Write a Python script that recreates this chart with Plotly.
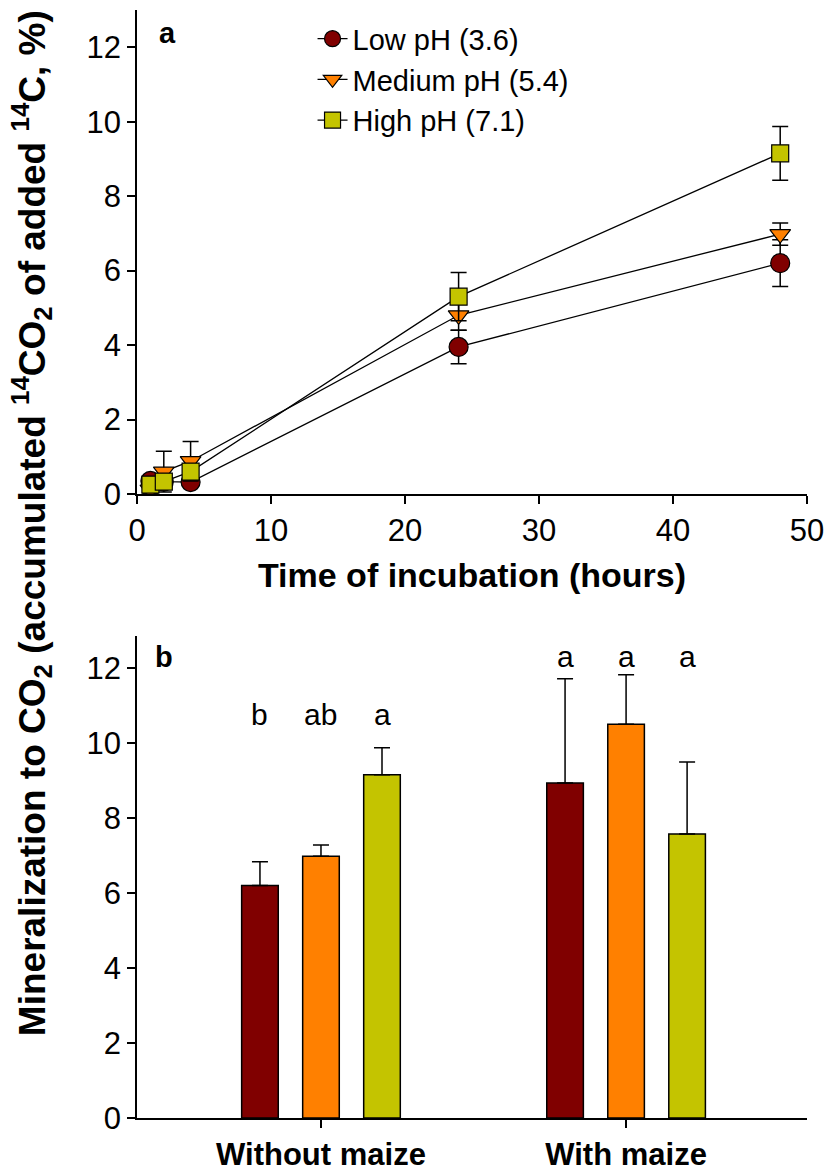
import plotly.graph_objects as go

# ---------------- data ----------------
time_h = [1, 2, 4, 24, 48]
series_names = ["Low pH (3.6)", "Medium pH (5.4)", "High pH (7.1)"]
low_ph = [0.35, 0.33, 0.32, 3.95, 6.2]
low_ph_err = [0.1, 0.1, 0.1, 0.45, 0.63]
med_ph = [0.12, 0.6, 0.88, 4.8, 6.98]
med_ph_err = [0.1, 0.55, 0.53, 0.4, 0.3]
high_ph = [0.25, 0.33, 0.6, 5.3, 9.15]
high_ph_err = [0.1, 0.1, 0.1, 0.65, 0.72]

treatments = ["Without maize", "With maize"]
bar_low = [6.2, 8.93]
bar_low_err = [0.63, 2.78]
bar_med = [6.98, 10.5]
bar_med_err = [0.3, 1.32]
bar_high = [9.15, 7.57]
bar_high_err = [0.72, 1.92]
letters_low = ["b", "a"]
letters_med = ["ab", "a"]
letters_high = ["a", "a"]
letter_y = [10.75, 12.3]

colors = ["#800000", "#FF8000", "#C4C400"]
symbols = ["circle", "triangle-down", "square"]
sizes = [19, 18, 17]

FONT = "Liberation Sans, Arial, sans-serif"

fig = go.Figure()

line_vals = [low_ph, med_ph, high_ph]
line_errs = [low_ph_err, med_ph_err, high_ph_err]
for name, vals, errs, col, sym, sz in zip(series_names, line_vals, line_errs, colors, symbols, sizes):
    fig.add_trace(go.Scatter(
        x=time_h, y=vals, name=name, mode="lines+markers",
        line=dict(color="black", width=1.3),
        marker=dict(symbol=sym, size=sz, color=col, line=dict(color="black", width=1.2)),
        error_y=dict(type="data", array=errs, visible=True, color="black", thickness=1.5, width=8),
        xaxis="x", yaxis="y",
    ))

bar_vals = [bar_low, bar_med, bar_high]
bar_errs = [bar_low_err, bar_med_err, bar_high_err]
for name, vals, errs, col in zip(series_names, bar_vals, bar_errs, colors):
    fig.add_trace(go.Bar(
        x=[0, 1], y=vals, name=name, showlegend=False,
        marker=dict(color=col, line=dict(color="black", width=1.5)),
        error_y=dict(type="data", array=errs, arrayminus=[0, 0], symmetric=False,
                     visible=True, color="black", thickness=1.5, width=8),
        xaxis="x2", yaxis="y2",
    ))

annotations = []
offsets = [-0.2, 0.0, 0.2]
for off, labs in zip(offsets, [letters_low, letters_med, letters_high]):
    for i, lab in enumerate(labs):
        annotations.append(dict(x=i + off, y=letter_y[i], xref="x2", yref="y2", text=lab,
                                showarrow=False, font=dict(family=FONT, size=30, color="black")))

annotations.append(dict(x=0.046, y=0.979, xref="paper", yref="paper", text="<b>a</b>",
                        showarrow=False, xanchor="center", yanchor="middle",
                        font=dict(family=FONT, size=29, color="black")))
annotations.append(dict(x=0.04, y=0.416, xref="paper", yref="paper", text="<b>b</b>",
                        showarrow=False, xanchor="center", yanchor="middle",
                        font=dict(family=FONT, size=29, color="black")))
annotations.append(dict(
    x=-0.158, y=0.537, xref="paper", yref="paper", textangle=-90,
    text="<b>Mineralization to CO<sub>2</sub> (accumulated <sup>14</sup>CO<sub>2</sub> of added <sup>14</sup>C, %)</b>",
    showarrow=False, xanchor="center", yanchor="middle",
    font=dict(family=FONT, size=37, color="black")))

axis_common = dict(showline=True, linecolor="black", linewidth=1.5, ticks="outside",
                   ticklen=8, tickwidth=1.5, tickcolor="black", showgrid=False, zeroline=False,
                   automargin=False,
                   tickfont=dict(family=FONT, size=31, color="black"))

fig.update_layout(
    width=825, height=1175,
    margin=dict(l=137, r=18, t=10, b=57),
    paper_bgcolor="white", plot_bgcolor="white",
    font=dict(family=FONT, color="black"),
    barmode="group", bargap=0.4, bargroupgap=0.4,
    xaxis=dict(domain=[0, 1], range=[0, 50], tickvals=[0, 10, 20, 30, 40, 50], anchor="y",
               title=dict(text="<b>Time of incubation (hours)</b>", standoff=16,
                          font=dict(family=FONT, size=34, color="black")),
               **axis_common),
    yaxis=dict(domain=[0.5632, 1.0], range=[0, 13], tickvals=[0, 2, 4, 6, 8, 10, 12], anchor="x",
               **axis_common),
    xaxis2=dict(domain=[0, 1], range=[-0.603, 1.593], tickvals=[0, 1],
                ticktext=["<b>Without maize</b>", "<b>With maize</b>"], ticklabelstandoff=0,
                anchor="y2", **{**axis_common, "tickfont": dict(family=FONT, size=31, color="black")}),
    yaxis2=dict(domain=[0, 0.435], range=[0, 12.85], tickvals=[0, 2, 4, 6, 8, 10, 12], anchor="x2",
                **axis_common),
    legend=dict(x=0.262, y=0.997, xanchor="left", yanchor="top", bgcolor="rgba(0,0,0,0)",
                font=dict(family=FONT, size=29, color="black"), tracegroupgap=0),
    annotations=annotations,
)

fig.write_html("out.html")
